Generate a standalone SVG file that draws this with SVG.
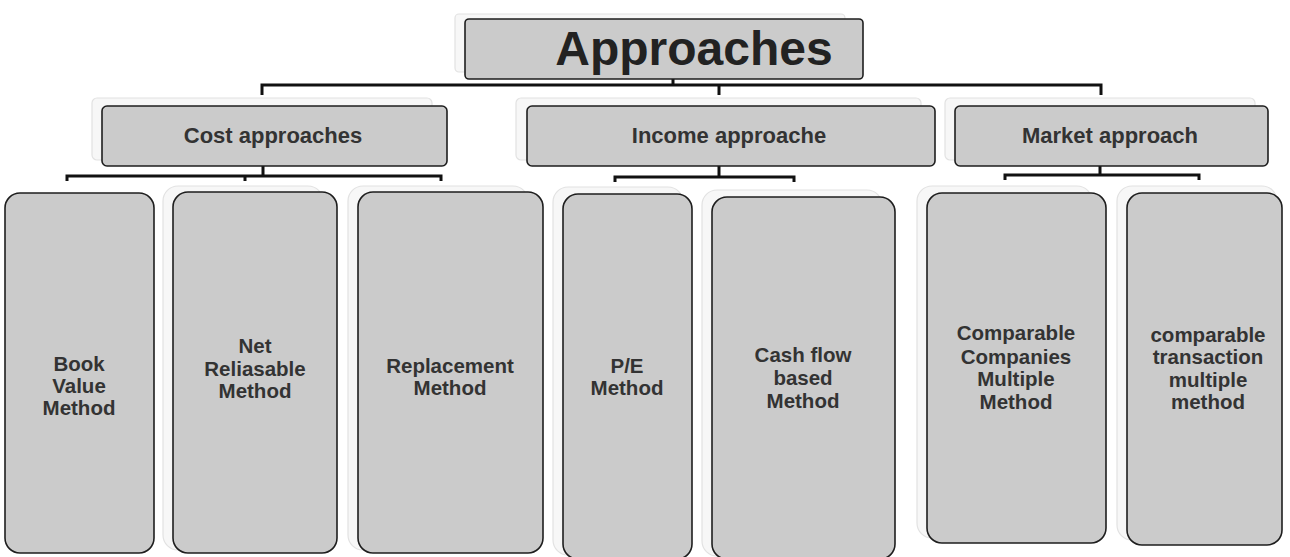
<svg xmlns="http://www.w3.org/2000/svg" width="1290" height="557" viewBox="0 0 1290 557">
<style>
.box{fill:#cbcbcb;stroke:#1e1e1e;stroke-width:1.6}
.shadow{fill:#f7f7f7;stroke:#e2e2e2;stroke-width:1.2}
.t{font-family:"Liberation Sans",Arial,sans-serif;font-weight:bold;fill:#333;text-anchor:middle}
.lvl1{font-size:22px}
.leaf{font-size:20.5px}
.conn{stroke:#111;stroke-width:3;fill:none}
</style>
<rect width="1290" height="557" fill="#fff"/>
<g id="connectors">
  <path class="conn" d="M673 79 V85 M262 95 V85 H1101 V95 M719 85 V95"/>
  <path class="conn" d="M263 166 V176 M67 181 V176 H441 V181 M245 176 V181"/>
  <path class="conn" d="M719 166 V177 M615 182 V177 H794 V182"/>
  <path class="conn" d="M1100 166 V175 M1005 180 V175 H1199 V180"/>
</g>
<g id="approaches">
  <rect class="shadow" x="455" y="14" width="390" height="58" rx="4"/>
  <rect class="box" x="465" y="19" width="398" height="60" rx="4"/>
  <text class="t" x="694" y="65" style="font-size:48px;fill:#222">Approaches</text>
</g>
<g id="cost">
  <rect class="shadow" x="92" y="98" width="340" height="62" rx="5"/>
  <rect class="box" x="102" y="106" width="345" height="60" rx="5"/>
  <text class="t lvl1" x="273" y="143">Cost approaches</text>
</g>
<g id="income">
  <rect class="shadow" x="516" y="98" width="405" height="62" rx="5"/>
  <rect class="box" x="527" y="106" width="408" height="60" rx="5"/>
  <text class="t lvl1" x="729" y="143">Income approache</text>
</g>
<g id="market">
  <rect class="shadow" x="945" y="98" width="310" height="62" rx="5"/>
  <rect class="box" x="955" y="106" width="313" height="60" rx="5"/>
  <text class="t lvl1" x="1110" y="143">Market approach</text>
</g>
<g id="book-value">
  <rect class="box" x="5" y="193" width="149" height="360" rx="15"/>
  <text class="t leaf" x="79" y="371">Book</text>
  <text class="t leaf" x="79" y="393">Value</text>
  <text class="t leaf" x="79" y="415">Method</text>
</g>
<g id="net-reliasable">
  <rect class="shadow" x="163" y="186" width="160" height="364" rx="15"/>
  <rect class="box" x="173" y="192" width="164" height="361" rx="15"/>
  <text class="t leaf" x="255" y="353">Net</text>
  <text class="t leaf" x="255" y="376">Reliasable</text>
  <text class="t leaf" x="255" y="398">Method</text>
</g>
<g id="replacement">
  <rect class="shadow" x="348" y="186" width="180" height="364" rx="15"/>
  <rect class="box" x="358" y="192" width="185" height="361" rx="15"/>
  <text class="t leaf" x="450" y="373">Replacement</text>
  <text class="t leaf" x="450" y="395">Method</text>
</g>
<g id="pe">
  <rect class="shadow" x="553" y="187" width="130" height="368" rx="15"/>
  <rect class="box" x="563" y="194" width="129" height="365" rx="15"/>
  <text class="t leaf" x="627" y="373">P/E</text>
  <text class="t leaf" x="627" y="395">Method</text>
</g>
<g id="cash-flow">
  <rect class="shadow" x="702" y="190" width="180" height="366" rx="15"/>
  <rect class="box" x="712" y="197" width="183" height="362" rx="15"/>
  <text class="t leaf" x="803" y="362">Cash flow</text>
  <text class="t leaf" x="803" y="385">based</text>
  <text class="t leaf" x="803" y="408">Method</text>
</g>
<g id="comparable-companies">
  <rect class="shadow" x="917" y="186" width="175" height="352" rx="15"/>
  <rect class="box" x="927" y="193" width="179" height="350" rx="15"/>
  <text class="t leaf" x="1016" y="340">Comparable</text>
  <text class="t leaf" x="1016" y="364">Companies</text>
  <text class="t leaf" x="1016" y="386">Multiple</text>
  <text class="t leaf" x="1016" y="409">Method</text>
</g>
<g id="comparable-transaction">
  <rect class="shadow" x="1117" y="186" width="160" height="354" rx="15"/>
  <rect class="box" x="1127" y="193" width="155" height="352" rx="15"/>
  <text class="t leaf" x="1208" y="342">comparable</text>
  <text class="t leaf" x="1208" y="364">transaction</text>
  <text class="t leaf" x="1208" y="387">multiple</text>
  <text class="t leaf" x="1208" y="409">method</text>
</g>
</svg>
